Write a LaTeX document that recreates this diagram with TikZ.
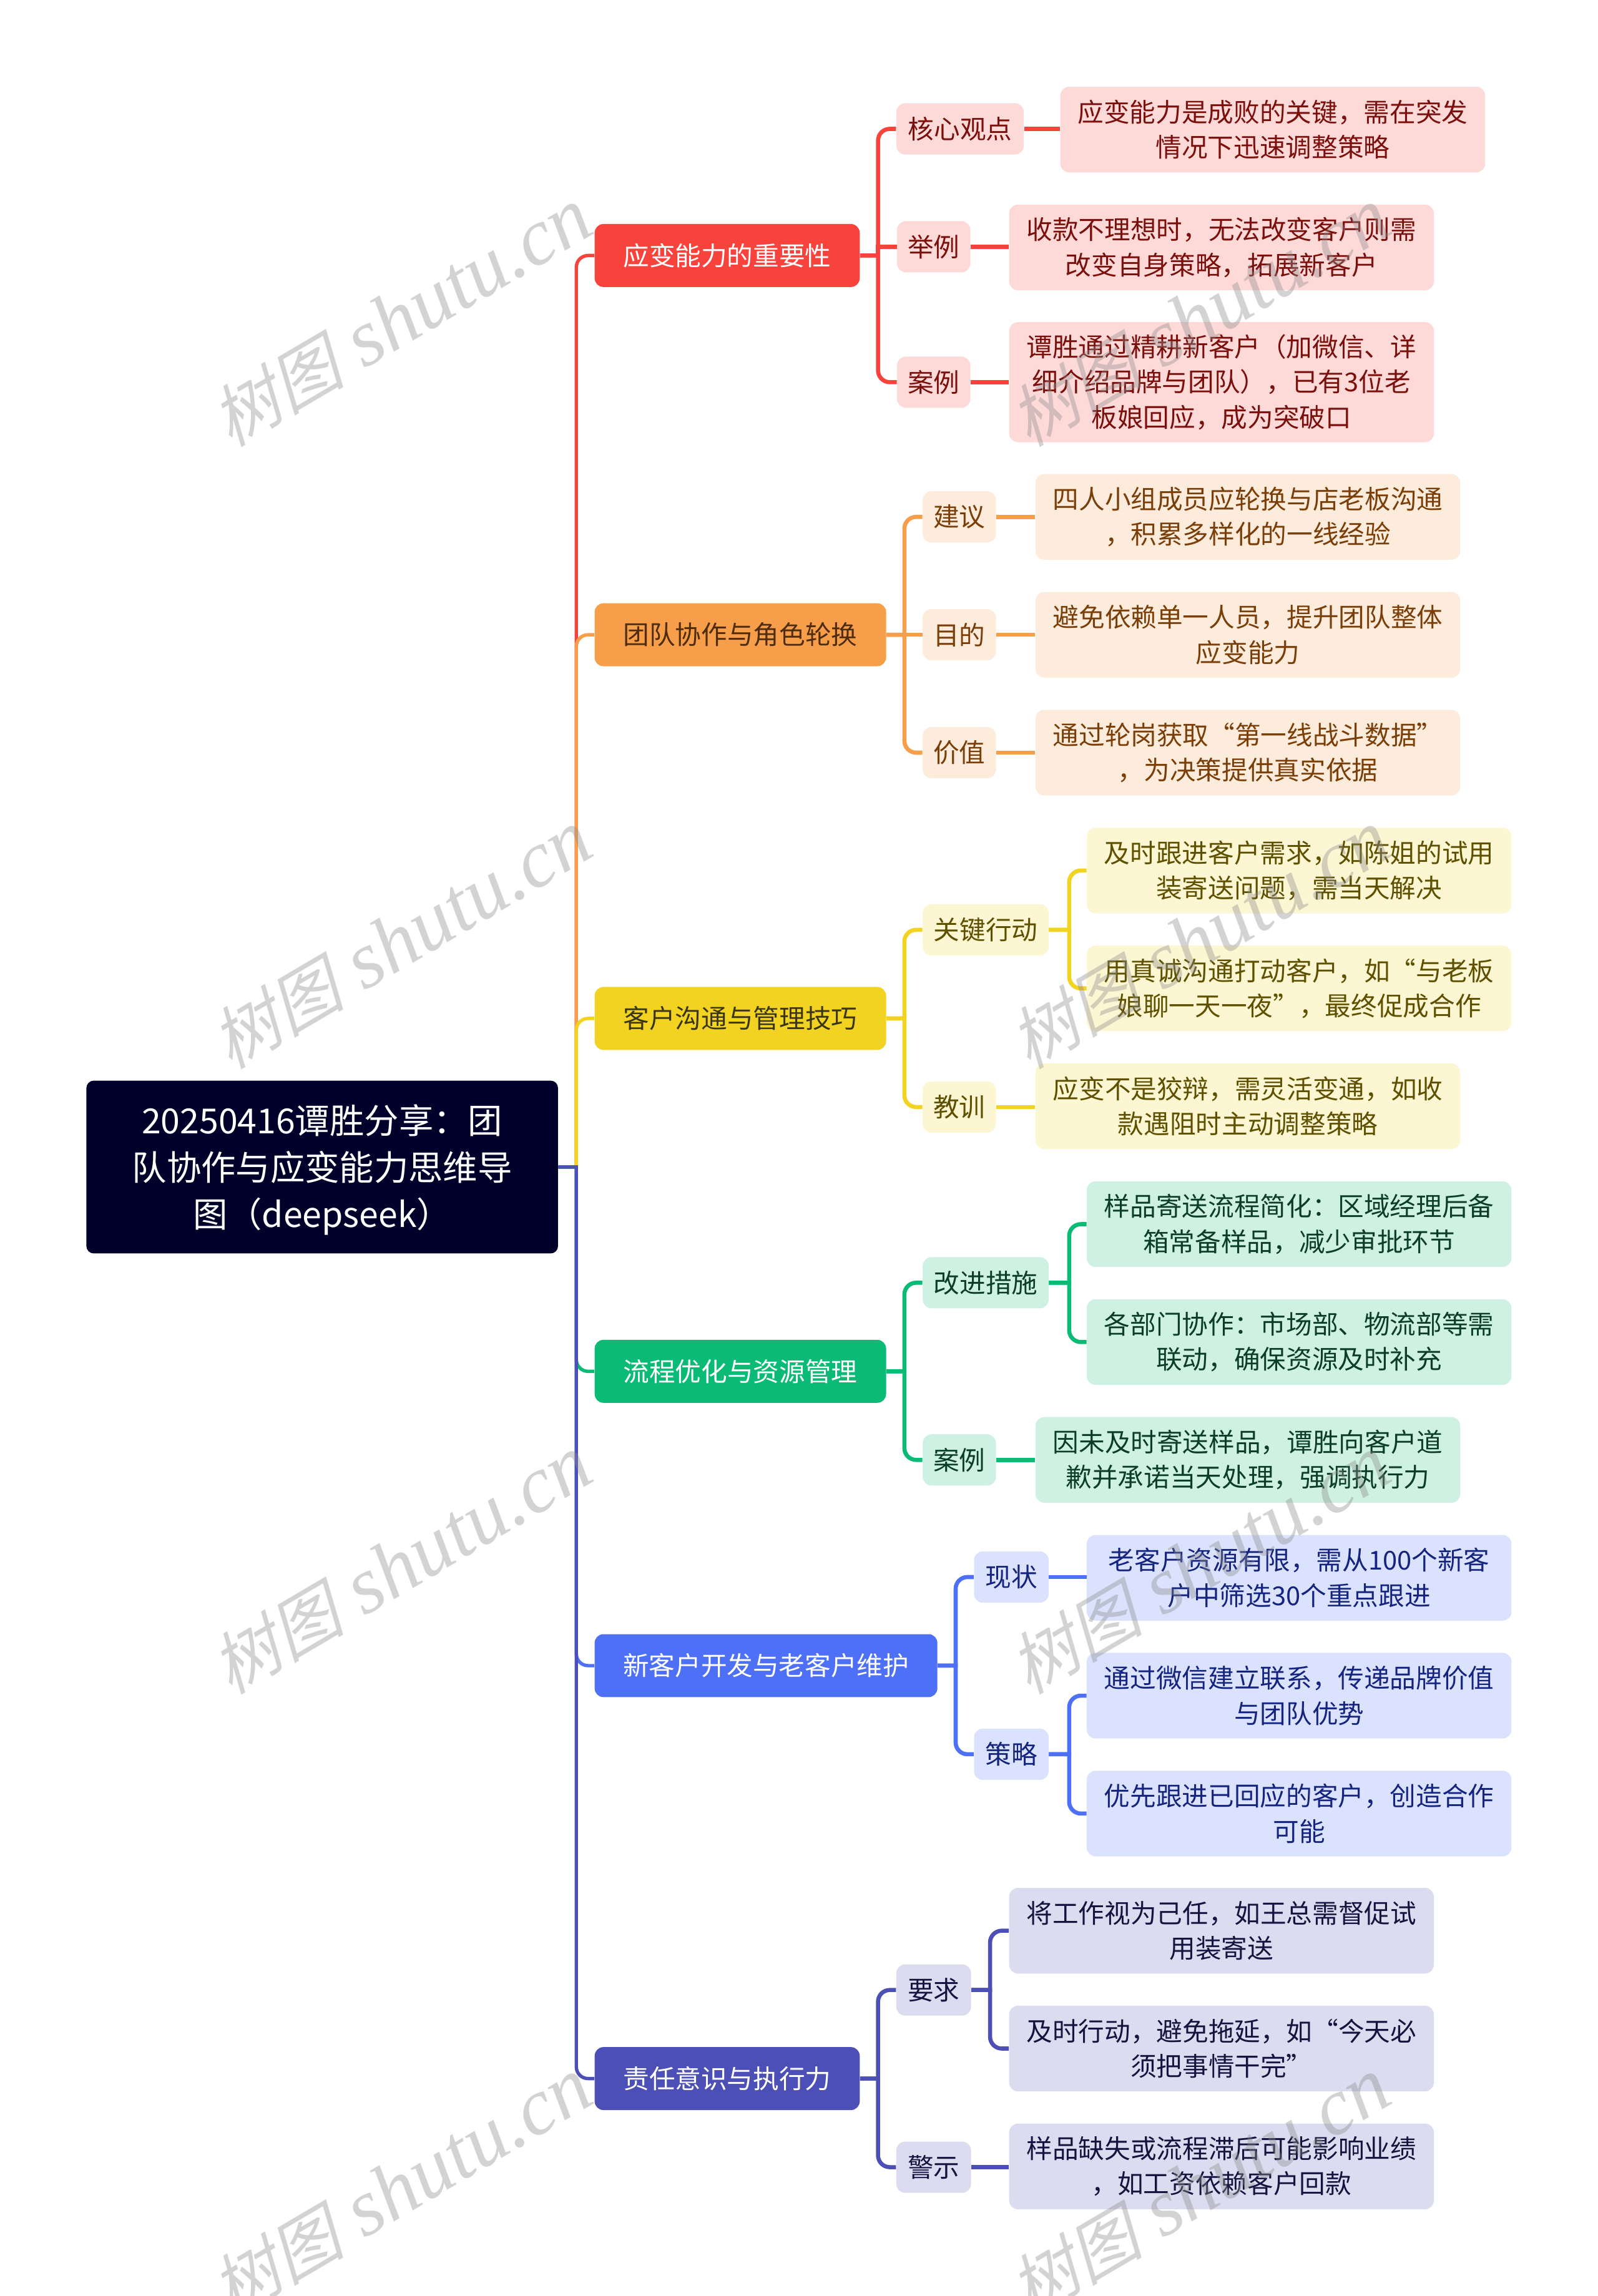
\documentclass[tikz,border=0pt]{standalone}
\usepackage{fontspec}
\setmainfont{Noto Sans CJK SC}
\newfontfamily\latinmark{Liberation Serif}
\newfontfamily\cjkmark[FakeSlant=0.25]{Noto Sans CJK SC}
\definecolor{rootfill}{HTML}{00002B}
\definecolor{redmain}{HTML}{F8433C}
\definecolor{orangemain}{HTML}{F79E4B}
\definecolor{yellowmain}{HTML}{F3D321}
\definecolor{greenmain}{HTML}{0ABB75}
\definecolor{bluemain}{HTML}{4D70F7}
\definecolor{indigomain}{HTML}{4C4FB5}
\definecolor{redsoft}{HTML}{FDD9D8}
\definecolor{orangesoft}{HTML}{FDEBDB}
\definecolor{yellowsoft}{HTML}{FCF6D3}
\definecolor{greensoft}{HTML}{CEF1E3}
\definecolor{bluesoft}{HTML}{DBE2FD}
\definecolor{indigosoft}{HTML}{DBDCEF}
\definecolor{redtext}{HTML}{7A0F0C}
\definecolor{orangetext}{HTML}{7A3E08}
\definecolor{yellowtext}{HTML}{5F5000}
\definecolor{greentext}{HTML}{0B3D2A}
\definecolor{bluetext}{HTML}{14247F}
\definecolor{indigotext}{HTML}{14143F}
\definecolor{orangedark}{HTML}{4F2C0C}
\definecolor{yellowdark}{HTML}{3A3614}
\tikzset{x=1pt,y=-1pt,
 rootnode/.style={fill=rootfill,text=white,rounded corners=5,align=center,inner sep=0,
  minimum width=322,minimum height=118,font=\fontsize{23.6}{32}\selectfont},
 topic/.style={fill=#1,text=white,rounded corners=6,inner sep=0,minimum height=43,
  font=\fontsize{17.75}{24}\selectfont},
 tag/.style={rounded corners=6,inner sep=0,minimum height=35,
  font=\fontsize{17.75}{24}\selectfont},
 note/.style={rounded corners=6,inner sep=0,minimum width=290,align=center,
  font=\fontsize{17.75}{24}\selectfont},
 two/.style={minimum height=58.5},
 three/.style={minimum height=82},
 rednote/.style={fill=redsoft,text=redtext},
 orangenote/.style={fill=orangesoft,text=orangetext},
 yellownote/.style={fill=yellowsoft,text=yellowtext},
 greennote/.style={fill=greensoft,text=greentext},
 bluenote/.style={fill=bluesoft,text=bluetext},
 indigonote/.style={fill=indigosoft,text=indigotext},
 link/.style={draw=#1,line width=2.8},
 trunklink/.style={draw=#1,line width=2.3},
 watermark/.style={text=black!45,opacity=.38,rotate=30.5,inner sep=0},
}
\begin{document}
\begin{tikzpicture}
    \clip (0, 0) rectangle (1091, 1568);
    % root and topics
    \node [rootnode] (root) at (220, 797) {\rule{0pt}{24pt}20250416谭胜分享：团\\队协作与应变能力思维导\\图（deepseek）};
    \node [topic=redmain, minimum width=181] (important) at (496.5, 174.5) {应变能力的重要性};
    \node [topic=orangemain, text=orangedark, minimum width=199] (team) at (505.5, 433.5) {团队协作与角色轮换};
    \node [topic=yellowmain, text=yellowdark, minimum width=199] (client) at (505.5, 695.5) {客户沟通与管理技巧};
    \node [topic=greenmain, minimum width=199] (flow) at (505.5, 936.5) {流程优化与资源管理};
    \node [topic=bluemain, minimum width=234] (develop) at (523, 1137.5) {新客户开发与老客户维护};
    \node [topic=indigomain, minimum width=181] (duty) at (496.5, 1419.5) {责任意识与执行力};
    % second level
    \node [tag, rednote, minimum width=87] (core) at (655.5, 88) {核心观点};
    \node [tag, rednote, minimum width=50] (sample) at (637.5, 168.5) {举例};
    \node [tag, rednote, minimum width=50] (casea) at (637.5, 261) {案例};
    \node [tag, orangenote, minimum width=50] (advice) at (655, 353) {建议};
    \node [tag, orangenote, minimum width=50] (goal) at (655, 433.5) {目的};
    \node [tag, orangenote, minimum width=50] (worth) at (655, 514) {价值};
    \node [tag, yellownote, minimum width=86] (action) at (673, 635) {关键行动};
    \node [tag, yellownote, minimum width=50] (lesson) at (655, 756) {教训};
    \node [tag, greennote, minimum width=86] (improve) at (673, 876) {改进措施};
    \node [tag, greennote, minimum width=50] (caseb) at (655, 997) {案例};
    \node [tag, bluenote, minimum width=51] (state) at (690.5, 1077) {现状};
    \node [tag, bluenote, minimum width=51] (plan) at (690.5, 1198) {策略};
    \node [tag, indigonote, minimum width=51] (demand) at (637.5, 1359) {要求};
    \node [tag, indigonote, minimum width=51] (warn) at (637.5, 1480) {警示};
    % notes
    \node [note, two, rednote] (n1) at (869, 88.5) {应变能力是成败的关键，需在突发\\情况下迅速调整策略};
    \node [note, two, rednote] (n2) at (834, 169) {收款不理想时，无法改变客户则需\\改变自身策略，拓展新客户};
    \node [note, three, rednote] (n3) at (834, 261) {谭胜通过精耕新客户（加微信、详\\细介绍品牌与团队），已有3位老\\板娘回应，成为突破口};
    \node [note, two, orangenote] (n4) at (852, 353) {四人小组成员应轮换与店老板沟通\\，积累多样化的一线经验};
    \node [note, two, orangenote] (n5) at (852, 433.5) {避免依赖单一人员，提升团队整体\\应变能力};
    \node [note, two, orangenote] (n6) at (852, 514) {通过轮岗获取“第一线战斗数据”\\，为决策提供真实依据};
    \node [note, two, yellownote] (n7) at (887, 594.5) {及时跟进客户需求，如陈姐的试用\\装寄送问题，需当天解决};
    \node [note, two, yellownote] (n8) at (887, 675) {用真诚沟通打动客户，如“与老板\\娘聊一天一夜”，最终促成合作};
    \node [note, two, yellownote] (n9) at (852, 755.5) {应变不是狡辩，需灵活变通，如收\\款遇阻时主动调整策略};
    \node [note, two, greennote] (n10) at (887, 836) {样品寄送流程简化：区域经理后备\\箱常备样品，减少审批环节};
    \node [note, two, greennote] (n11) at (887, 916.5) {各部门协作：市场部、物流部等需\\联动，确保资源及时补充};
    \node [note, two, greennote] (n12) at (852, 997) {因未及时寄送样品，谭胜向客户道\\歉并承诺当天处理，强调执行力};
    \node [note, two, bluenote] (n13) at (887, 1077.5) {老客户资源有限，需从100个新客\\户中筛选30个重点跟进};
    \node [note, two, bluenote] (n14) at (887, 1158) {通过微信建立联系，传递品牌价值\\与团队优势};
    \node [note, two, bluenote] (n15) at (887, 1238.5) {优先跟进已回应的客户，创造合作\\可能};
    \node [note, two, indigonote] (n16) at (834, 1318.5) {将工作视为己任，如王总需督促试\\用装寄送};
    \node [note, two, indigonote] (n17) at (834, 1399) {及时行动，避免拖延，如“今天必\\须把事情干完”};
    \node [note, two, indigonote] (n18) at (834, 1479.5) {样品缺失或流程滞后可能影响业绩\\，如工资依赖客户回款};
    % trunk
    \coordinate (trunk) at (393.5, 797);
    \draw [trunklink=redmain] (root.east) -- (trunk) [rounded corners=8] -- (trunk |- important.west) -- (important.west);
    \draw [trunklink=orangemain] (root.east) -- (trunk) [rounded corners=8] -- (trunk |- team.west) -- (team.west);
    \draw [trunklink=yellowmain] (root.east) -- (trunk) [rounded corners=8] -- (trunk |- client.west) -- (client.west);
    \draw [trunklink=greenmain] (root.east) -- (trunk) [rounded corners=8] -- (trunk |- flow.west) -- (flow.west);
    \draw [trunklink=bluemain] (root.east) -- (trunk) [rounded corners=8] -- (trunk |- develop.west) -- (develop.west);
    \draw [trunklink=indigomain] (root.east) -- (trunk) [rounded corners=8] -- (trunk |- duty.west) -- (duty.west);
    % topic to tag
    \coordinate (forka) at (599.5, 174.5);
    \draw [link=redmain] (important.east) -- (forka) [rounded corners=8] -- (forka |- core.west) -- (core.west);
    \draw [link=redmain] (forka) -- (forka |- sample.west) -- (sample.west);
    \draw [link=redmain] (important.east) -- (forka) [rounded corners=8] -- (forka |- casea.west) -- (casea.west);
    \coordinate (forkb) at (617.5, 433.5);
    \draw [link=orangemain] (team.east) -- (forkb) [rounded corners=8] -- (forkb |- advice.west) -- (advice.west);
    \draw [link=orangemain] (team.east) -- (goal.west);
    \draw [link=orangemain] (team.east) -- (forkb) [rounded corners=8] -- (forkb |- worth.west) -- (worth.west);
    \coordinate (forkc) at (617.5, 695.5);
    \draw [link=yellowmain] (client.east) -- (forkc) [rounded corners=8] -- (forkc |- action.west) -- (action.west);
    \draw [link=yellowmain] (client.east) -- (forkc) [rounded corners=8] -- (forkc |- lesson.west) -- (lesson.west);
    \coordinate (forkd) at (617.5, 936.5);
    \draw [link=greenmain] (flow.east) -- (forkd) [rounded corners=8] -- (forkd |- improve.west) -- (improve.west);
    \draw [link=greenmain] (flow.east) -- (forkd) [rounded corners=8] -- (forkd |- caseb.west) -- (caseb.west);
    \coordinate (forke) at (652.5, 1137.5);
    \draw [link=bluemain] (develop.east) -- (forke) [rounded corners=8] -- (forke |- state.west) -- (state.west);
    \draw [link=bluemain] (develop.east) -- (forke) [rounded corners=8] -- (forke |- plan.west) -- (plan.west);
    \coordinate (forkf) at (599.5, 1419.5);
    \draw [link=indigomain] (duty.east) -- (forkf) [rounded corners=8] -- (forkf |- demand.west) -- (demand.west);
    \draw [link=indigomain] (duty.east) -- (forkf) [rounded corners=8] -- (forkf |- warn.west) -- (warn.west);
    % tag to note
    \draw [link=redmain] (core.east) -- (n1.west |- core.east);
    \draw [link=redmain] (sample.east) -- (n2.west |- sample.east);
    \draw [link=redmain] (casea.east) -- (n3.west);
    \draw [link=orangemain] (advice.east) -- (n4.west);
    \draw [link=orangemain] (goal.east) -- (n5.west);
    \draw [link=orangemain] (worth.east) -- (n6.west);
    \draw [link=yellowmain] (lesson.east) -- (n9.west |- lesson.east);
    \draw [link=greenmain] (caseb.east) -- (n12.west);
    \draw [link=bluemain] (state.east) -- (n13.west |- state.east);
    \draw [link=indigomain] (warn.east) -- (n18.west |- warn.east);
    \coordinate (forkg) at (730, 635);
    \draw [link=yellowmain] (action.east) -- (forkg) [rounded corners=8] -- (forkg |- n7.west) -- (n7.west);
    \draw [link=yellowmain] (action.east) -- (forkg) [rounded corners=8] -- (forkg |- n8.west) -- (n8.west);
    \coordinate (forkh) at (730, 876);
    \draw [link=greenmain] (improve.east) -- (forkh) [rounded corners=8] -- (forkh |- n10.west) -- (n10.west);
    \draw [link=greenmain] (improve.east) -- (forkh) [rounded corners=8] -- (forkh |- n11.west) -- (n11.west);
    \coordinate (forki) at (730, 1198);
    \draw [link=bluemain] (plan.east) -- (forki) [rounded corners=8] -- (forki |- n14.west) -- (n14.west);
    \draw [link=bluemain] (plan.east) -- (forki) [rounded corners=8] -- (forki |- n15.west) -- (n15.west);
    \coordinate (forkj) at (676, 1359);
    \draw [link=indigomain] (demand.east) -- (forkj) [rounded corners=8] -- (forkj |- n16.west) -- (n16.west);
    \draw [link=indigomain] (demand.east) -- (forkj) [rounded corners=8] -- (forkj |- n17.west) -- (n17.west);
    % shutu marks
    \foreach \markx in {274, 819} {
        \foreach \marky in {217, 642, 1069, 1494} {
            \node [watermark] at (\markx, \marky) {{\fontsize{46}{52}\selectfont\cjkmark 树图}\fontsize{55}{55}\selectfont\latinmark\itshape\ shutu.cn};
        }
    }
\end{tikzpicture}
\end{document}
